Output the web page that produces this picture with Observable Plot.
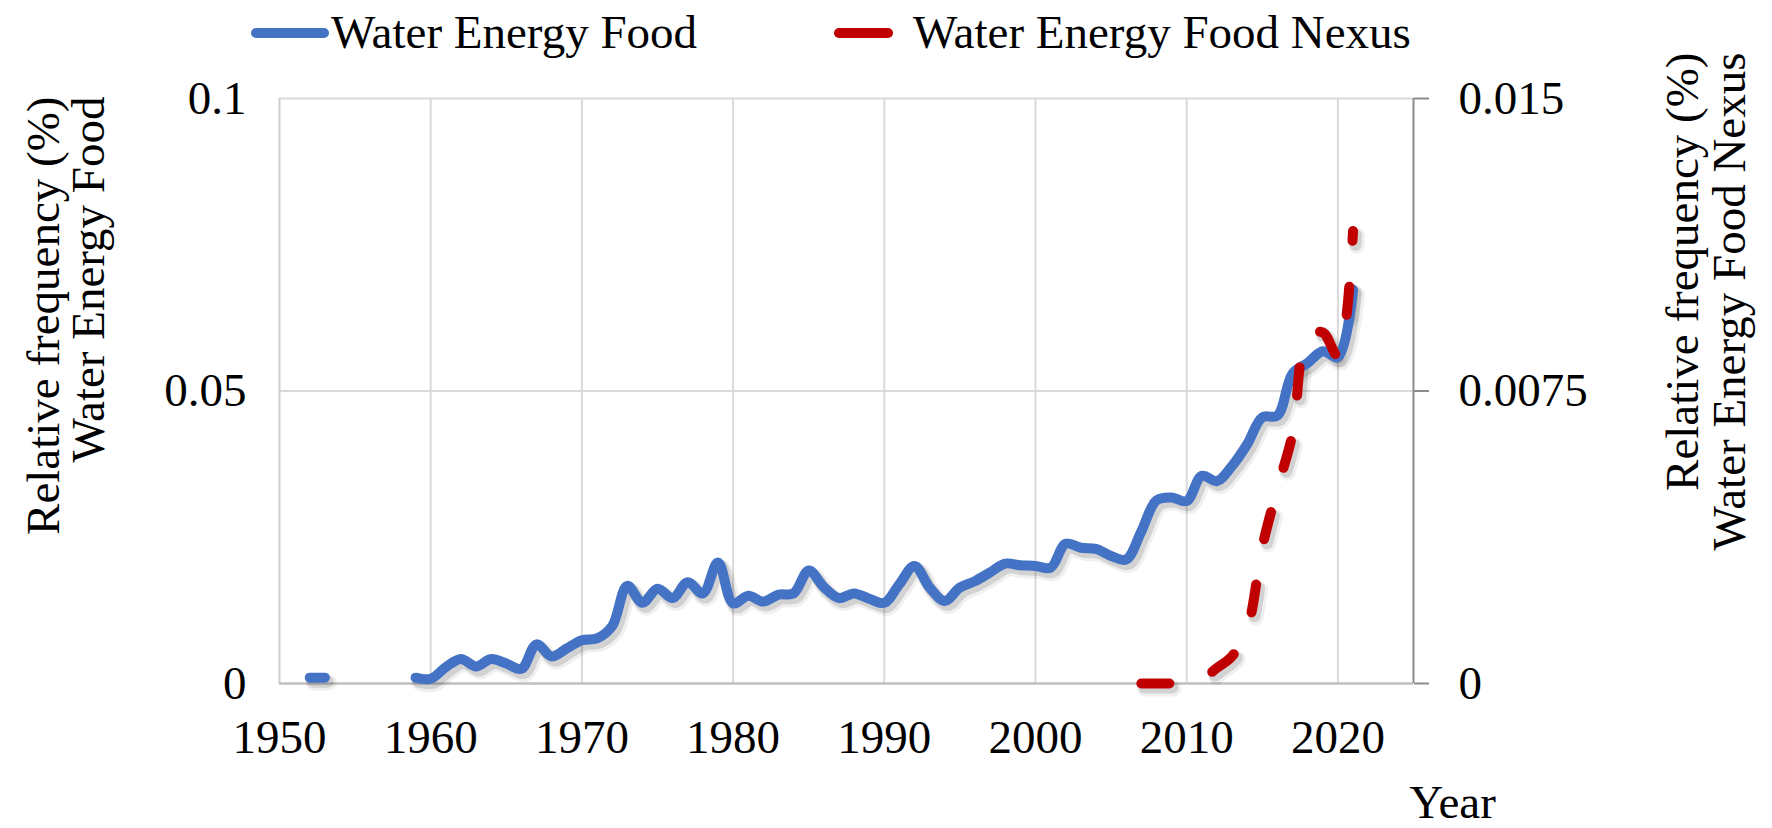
<!DOCTYPE html>
<html>
<head>
<meta charset="utf-8">
<script src="https://cdn.jsdelivr.net/npm/d3@7"></script>
<script src="https://cdn.jsdelivr.net/npm/@observablehq/plot@0.6"></script>
<style>
  body { margin: 0; background: #fff; font-family: "Liberation Serif", "Times New Roman", serif; }
  #legend { position: relative; width: 1772px; height: 64px; }
  #legend .sw { position: absolute; top: 0; }
  #legend .lt { position: absolute; top: 0; height: 64px; line-height: 64px; font-size: 47px; color: #000; white-space: nowrap; }
</style>
</head>
<body>
<div id="legend"></div>
<div id="chart"></div>
<script>
// ---------- data ----------
const seriesNames = ["Water Energy Food", "Water Energy Food Nexus"];
const seriesColors = ["#4472C4", "#C00000"];

const wefYears = [
  1952, 1953, 1954, 1955, 1956, 1957, 1958, 1959, 1960,
  1961, 1962, 1963, 1964, 1965, 1966, 1967, 1968, 1969, 1970,
  1971, 1972, 1973, 1974, 1975, 1976, 1977, 1978, 1979, 1980,
  1981, 1982, 1983, 1984, 1985, 1986, 1987, 1988, 1989, 1990,
  1991, 1992, 1993, 1994, 1995, 1996, 1997, 1998, 1999, 2000,
  2001, 2002, 2003, 2004, 2005, 2006, 2007, 2008, 2009, 2010,
  2011, 2012, 2013, 2014, 2015, 2016, 2017, 2018, 2019, 2020, 2021
];
const wefValues = [
  0.0010, 0.0010, null, null, null, null, null, 0.0010, 0.0008,
  0.0028, 0.0042, 0.0029, 0.0042, 0.0034, 0.0025, 0.0067, 0.0046, 0.0060, 0.0074,
  0.0077, 0.0098, 0.0167, 0.0138, 0.0162, 0.0146, 0.0173, 0.0154, 0.0207, 0.0137,
  0.0150, 0.0140, 0.0152, 0.0154, 0.0193, 0.0165, 0.0146, 0.0154, 0.0145, 0.0138,
  0.0170, 0.0201, 0.0164, 0.0141, 0.0164, 0.0175, 0.0190, 0.0205, 0.0202, 0.0201,
  0.0198, 0.0239, 0.0232, 0.0230, 0.0218, 0.0212, 0.0260, 0.0313, 0.0318, 0.0312,
  0.0355, 0.0346, 0.0372, 0.0409, 0.0455, 0.0458, 0.0530, 0.0548, 0.0568, 0.0558, 0.0673
];

const nexusYears = [2007, 2008, 2009, 2010, 2011, 2012, 2013, 2014, 2015, 2016, 2017, 2018, 2019, 2020, 2021];
const nexusValues = [0, 0, 0, 0, 0.0001, 0.0004, 0.0007, 0.0014, 0.0035, 0.0050, 0.0064, 0.0089, 0.0090, 0.0084, 0.0116];

const xTicks = [1950, 1960, 1970, 1980, 1990, 2000, 2010, 2020];
const xDomain = [1950, 2025];
const leftTicks = [0, 0.05, 0.1];
const leftTickLabels = ["0", "0.05", "0.1"];
const rightMax = 0.015;
const rightTicks = [0, 0.0075, 0.015];
const rightTickLabels = ["0", "0.0075", "0.015"];

const xTitle = "Year";
const leftTitleLines = ["Relative frequency (%)", "Water Energy Food"];
const rightTitleLines = ["Relative frequency (%)", "Water Energy Food Nexus"];

// ---------- tables ----------
const wefData = wefYears.map((year, i) => ({year, value: wefValues[i]}));
const nexusData = nexusYears.map((year, i) => ({year, value: nexusValues[i]}));
const leftMax = leftTicks[leftTicks.length - 1];
const ratio = leftMax / rightMax; // right axis mapped onto left scale
const rightTickPos = rightTicks.map(v => v * ratio);

// ---------- legend (HTML) ----------
const legend = document.getElementById("legend");
const legendLayout = [
  {sw: 246, swW: 88, x1: 10, x2: 78, text: 331},
  {sw: 829, swW: 70, x1: 10, x2: 59, text: 913}
];
legendLayout.forEach((L, i) => {
  const s = document.createElementNS("http://www.w3.org/2000/svg", "svg");
  s.setAttribute("class", "sw");
  s.setAttribute("width", L.swW);
  s.setAttribute("height", 64);
  s.style.left = L.sw + "px";
  const ln = document.createElementNS("http://www.w3.org/2000/svg", "line");
  ln.setAttribute("x1", L.x1); ln.setAttribute("x2", L.x2);
  ln.setAttribute("y1", 33); ln.setAttribute("y2", 33);
  ln.setAttribute("stroke", seriesColors[i]);
  ln.setAttribute("stroke-width", 10);
  ln.setAttribute("stroke-linecap", "round");
  s.appendChild(ln);
  legend.appendChild(s);
  const t = document.createElement("div");
  t.className = "lt";
  t.style.left = L.text + "px";
  t.textContent = seriesNames[i];
  legend.appendChild(t);
});

// ---------- chart ----------
const gridColor = "#D9D9D9";
const dash = "28,46";
const shadowLayers = [
  {w: 16, o: 0.06, dx: 4, dy: 5},
  {w: 12, o: 0.12, dx: 3, dy: 4}
];
const shadowMarks = shadowLayers.flatMap(s => [
  Plot.line(wefData, {x: "year", y: "value", stroke: "#000", strokeOpacity: s.o, strokeWidth: s.w,
    dx: s.dx, dy: s.dy, curve: "catmull-rom"}),
  Plot.line(nexusData, {x: "year", y: d => d.value * ratio, stroke: "#000", strokeOpacity: s.o, strokeWidth: s.w,
    dx: s.dx, dy: s.dy, strokeDasharray: dash, curve: "catmull-rom"})
]);

const chart = Plot.plot({
  width: 1772,
  height: 764,
  marginLeft: 279,
  marginRight: 359,
  marginTop: 34,
  marginBottom: 145,
  style: {
    fontFamily: '"Liberation Serif", "Times New Roman", serif',
    fontSize: "47px",
    color: "#000",
    background: "#fff",
    overflow: "visible"
  },
  x: {domain: xDomain},
  y: {domain: [0, leftMax]},
  marks: [
    Plot.gridX(xTicks.slice(1), {stroke: gridColor, strokeOpacity: 1, strokeWidth: 2}),
    Plot.gridY(leftTicks.slice(1), {stroke: gridColor, strokeOpacity: 1, strokeWidth: 2}),
    Plot.ruleX([xDomain[0]], {stroke: "#CFCFCF", strokeWidth: 2}),
    Plot.ruleY([0], {stroke: "#BFBFBF", strokeWidth: 2.5}),
    Plot.ruleX([xDomain[1]], {stroke: "#8C8C8C", strokeWidth: 2}),
    Plot.axisX(xTicks, {tickSize: 0, tickPadding: 36, fill: "#000", tickFormat: d => String(d), label: null}),
    Plot.axisY(leftTicks, {anchor: "left", tickSize: 0, tickPadding: 33, fill: "#000",
      tickFormat: d => leftTickLabels[leftTicks.indexOf(d)], label: null}),
    Plot.axisY(rightTickPos, {anchor: "right", tickSize: 15, tickPadding: 30, stroke: "#8C8C8C", strokeWidth: 2, fill: "#000",
      tickFormat: d => rightTickLabels[rightTickPos.indexOf(d)], label: null}),
    ...shadowMarks,
    Plot.line(wefData, {x: "year", y: "value", stroke: seriesColors[0], strokeWidth: 10,
      curve: "catmull-rom"}),
    Plot.line(nexusData, {x: "year", y: d => d.value * ratio, stroke: seriesColors[1], strokeWidth: 10,
      strokeDasharray: dash, strokeLinecap: "round", curve: "catmull-rom"}),
    Plot.text([xTitle], {text: d => d, frameAnchor: "bottom-right", dx: 39, dy: 134, textAnchor: "middle", fill: "#000"}),
    Plot.text([leftTitleLines[0]], {text: d => d, frameAnchor: "top-left", rotate: -90, textAnchor: "end", dx: -254, dy: -2, fill: "#000"}),
    Plot.text([leftTitleLines[1]], {text: d => d, frameAnchor: "top-left", rotate: -90, textAnchor: "end", dx: -209, dy: -2, fill: "#000"}),
    Plot.text([rightTitleLines[0]], {text: d => d, frameAnchor: "top-right", rotate: -90, textAnchor: "end", dx: 251, dy: -46, fill: "#000"}),
    Plot.text([rightTitleLines[1]], {text: d => d, frameAnchor: "top-right", rotate: -90, textAnchor: "end", dx: 298, dy: -46, fill: "#000"})
  ]
});

document.getElementById("chart").appendChild(chart);
</script>
</body>
</html>
